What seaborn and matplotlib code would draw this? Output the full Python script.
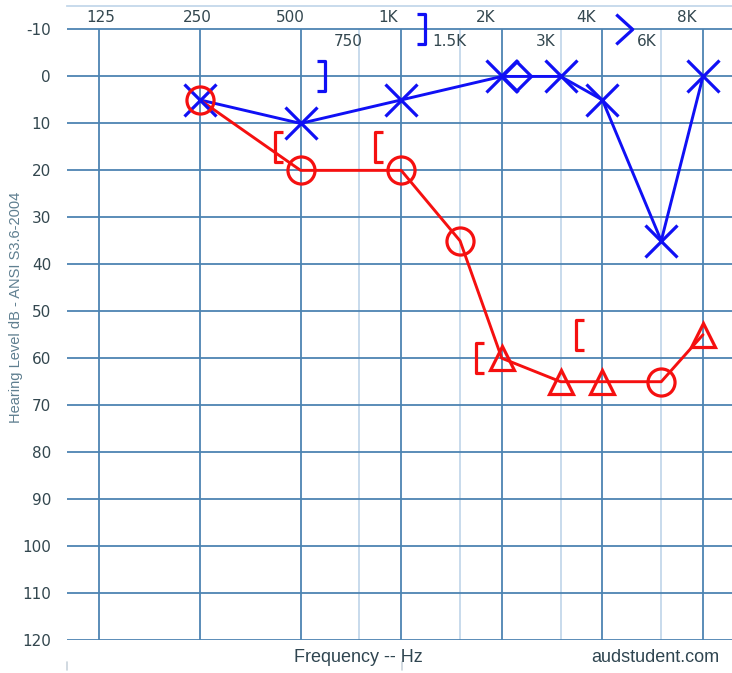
import numpy as np
import pandas as pd
import matplotlib
matplotlib.use("Agg")
import matplotlib.pyplot as plt
from matplotlib.path import Path
import seaborn as sns

# ---------------- data ----------------
octave_freqs = [125, 250, 500, 1000, 2000, 4000, 8000]
octave_labels = ["125", "250", "500", "1K", "2K", "4K", "8K"]
mid_freqs = [750, 1500, 3000, 6000]
mid_labels = ["750", "1.5K", "3K", "6K"]
db_ticks = [-10, 0, 10, 20, 30, 40, 50, 60, 70, 80, 90, 100, 110, 120]

# right ear air conduction (blue X)
right_freq = [250, 500, 1000, 2000, 3000, 4000, 6000, 8000]
right_db = [5, 10, 5, 0, 0, 5, 35, 0]
# left ear air conduction (red), circle / triangle symbols
left_freq = [250, 500, 1000, 1500, 2000, 3000, 4000, 6000, 8000]
left_db = [5, 20, 20, 35, 60, 65, 65, 65, 55]
left_sym = ["o", "o", "o", "o", "^", "^", "^", "o", "^"]
# extra right-ear symbol (diamond)
diamond_freq = [2000]
diamond_db = [0]
# left masked bone "["
left_bone_freq = [500, 1000, 2000, 4000]
left_bone_db = [15, 15, 60, 55]
# right masked bone "]"
right_bone_freq = [500, 1000]
right_bone_db = [0, -10]
# right unmasked bone ">"
right_ubone_freq = [4000]
right_ubone_db = [-10]

# ---------------- style ----------------
BLUE = "#1010f5"
RED = "#f51010"
MAJOR = "#4d84b2"
MINOR = "#c4d8ea"
TXT = "#33474f"

sns.set_theme(style="white")
plt.rcParams["font.family"] = ["DejaVu Sans"]

fig = plt.figure(figsize=(7.32, 6.73), dpi=100)
ax = fig.add_axes([67 / 732, 33 / 673, 665 / 732, 634 / 673])
ax.set_xscale("log")
ax.set_xlim(100, 9770)
ax.set_ylim(120, -15)
for s in ["left", "right", "bottom"]:
    ax.spines[s].set_visible(False)
ax.spines["top"].set_color(MINOR)
ax.spines["top"].set_linewidth(1.3)

# grid
for d in db_ticks:
    ax.axhline(d, color=MAJOR, lw=1.3, zorder=1)
ax.vlines(octave_freqs, -10, 120, color=MAJOR, lw=1.3, zorder=1)
ax.vlines(mid_freqs, -10, 120, color=MINOR, lw=1.3, zorder=0.9)

ax.set_yticks(db_ticks)
ax.set_yticklabels([str(d) for d in db_ticks])
ax.tick_params(axis="y", length=0, pad=11.5, labelsize=11, labelcolor=TXT)
ax.set_xticks([])
ax.xaxis.set_minor_locator(matplotlib.ticker.NullLocator())

# top frequency labels
oct_off = [1, -3, -10, -13, -16, -16, -16]
for f, lab, o in zip(octave_freqs, octave_labels, oct_off):
    ax.annotate(lab, (f, -12.5), xytext=(o * 0.72, 0), textcoords="offset points",
                ha="center", va="center", fontsize=11, color=TXT)
mid_off = [-11, -11, -15, -14]
for f, lab, o in zip(mid_freqs, mid_labels, mid_off):
    ax.annotate(lab, (f, -7.4), xytext=(o * 0.72, 0), textcoords="offset points",
                ha="center", va="center", fontsize=11, color=TXT)

ax.set_ylabel("Hearing Level dB - ANSI S3.6-2004", fontsize=10.5, color="#5f7f90",
              family=["Liberation Sans Narrow", "Liberation Sans", "DejaVu Sans"])
ax.yaxis.set_label_coords(-0.066, 0.524)

fig.text(358 / 732, 1 - 657 / 673, "Frequency -- Hz", ha="center", va="center",
         fontsize=13, color="#2f4550", family=["Liberation Sans", "DejaVu Sans"])
fig.text(655 / 732, 1 - 657 / 673, "audstudent.com", ha="center", va="center",
         fontsize=13, color="#2f4550", family=["Liberation Sans", "DejaVu Sans"])

# tiny faint marks below the chart
for xf in [67 / 732, 402 / 732]:
    fig.add_artist(matplotlib.lines.Line2D([xf, xf], [1 - 670 / 673, 1 - 662 / 673],
                                           color="#c9d3dc", lw=1.2))

# ---------------- markers ----------------
MO, LI = Path.MOVETO, Path.LINETO
br_left = Path([(0.28, 1), (-0.28, 1), (-0.28, -1), (0.28, -1)], [MO, LI, LI, LI])
br_right = Path([(-0.28, 1), (0.28, 1), (0.28, -1), (-0.28, -1)], [MO, LI, LI, LI])
chevron = Path([(-0.55, 1), (0.55, 0), (-0.55, -1)], [MO, LI, LI])

def shift(freqs, px):
    return [f * 2 ** (px / 100.7) for f in freqs]

mk = dict(estimator=None, sort=False, linestyle="", mfc="none", mew=2.3, zorder=5,
          legend=False)

# blue series
sns.lineplot(x=right_freq, y=right_db, ax=ax, color=BLUE, lw=2.1, estimator=None,
             sort=False, zorder=4, legend=False)
sns.lineplot(x=right_freq, y=right_db, ax=ax, color=BLUE, mec=BLUE, marker="x",
             ms=23.5, **mk)
sns.lineplot(x=shift(diamond_freq, 14), y=diamond_db, ax=ax, color=BLUE, mec=BLUE,
             marker="D", ms=15.5, **mk)
sns.lineplot(x=shift(right_bone_freq, 20), y=right_bone_db, ax=ax, color=BLUE,
             mec=BLUE, marker=br_right, ms=21.5, **mk)
sns.lineplot(x=shift(right_ubone_freq, 22), y=right_ubone_db, ax=ax, color=BLUE,
             mec=BLUE, marker=chevron, ms=21.5, **mk)

# red series
sns.lineplot(x=left_freq, y=left_db, ax=ax, color=RED, lw=2.1, estimator=None,
             sort=False, zorder=4, legend=False)
df = pd.DataFrame({"f": left_freq, "db": left_db, "sym": left_sym})
circ = df[df.sym == "o"]
tri = df[df.sym == "^"]
sns.lineplot(x=circ.f.tolist(), y=circ.db.tolist(), ax=ax, color=RED, mec=RED,
             marker="o", ms=19.5, **mk)
sns.lineplot(x=tri.f.tolist(), y=tri.db.tolist(), ax=ax, color=RED, mec=RED,
             marker="^", ms=17, **mk)
sns.lineplot(x=shift(left_bone_freq, -22), y=left_bone_db, ax=ax, color=RED, mec=RED,
             marker=br_left, ms=21.5, **mk)

ax.set_xlabel("")
fig.savefig("out.png", dpi=100)
